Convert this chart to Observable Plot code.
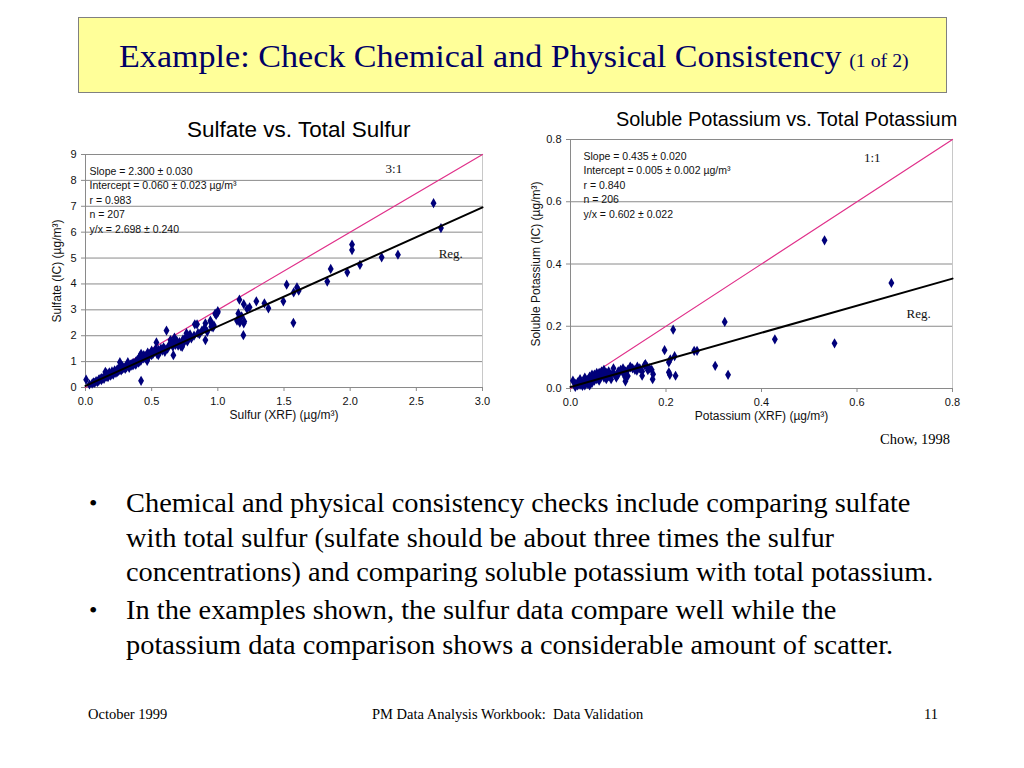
<!DOCTYPE html>
<html>
<head>
<meta charset="utf-8">
<script src="https://cdn.jsdelivr.net/npm/d3@7"></script>
<script src="https://cdn.jsdelivr.net/npm/@observablehq/plot@0.6"></script>
<style>
  html, body { margin: 0; padding: 0; background: #fff; }
  body { width: 1024px; height: 768px; position: relative; overflow: hidden; font-family: "Liberation Serif", "Times New Roman", serif; }
  .abs { position: absolute; }
  #titlebox { left: 78px; top: 17px; width: 869px; height: 76px; background: #FFFF99; border: 1.5px solid #808080; box-sizing: border-box; color: #000066; }
  #titlebox .t { position: absolute; left: 40px; top: 19px; font-size: 31px; line-height: 40px; white-space: nowrap; transform: scaleX(1.1); transform-origin: left center; }
  #titlebox small { font-size: 18px; margin-left: 7px; }
  .ctitle { font-family: "Liberation Sans", Arial, sans-serif; color: #000; white-space: nowrap; line-height: 1; }
  .bullets { left: 89px; top: 486px; width: 900px; font-size: 28px; line-height: 34.5px; color: #000; }
  .bullets .b { position: relative; margin-bottom: 3.5px; height: auto; }
  .bullets .dot { position: absolute; left: 0; top: 0; font-size: 24px; }
  .bullets .txt { display: inline-block; margin-left: 37px; white-space: nowrap; transform: scaleX(1.014); transform-origin: left top; }
  .foot { font-size: 14.5px; top: 706px; color: #000; white-space: nowrap; }
</style>
</head>
<body>
<div id="titlebox" class="abs"><div class="t">Example: Check Chemical and Physical Consistency<small>(1 of 2)</small></div></div>
<div class="abs ctitle" style="left:187px; top:119px; font-size:22.5px;">Sulfate vs. Total Sulfur</div>
<div class="abs ctitle" style="left:616px; top:110px; font-size:19.9px;">Soluble Potassium vs. Total Potassium</div>
<div id="left" class="abs" style="left:40px; top:145px;"></div>
<div id="right" class="abs" style="left:515px; top:130px;"></div>
<div class="abs" style="left:880px; top:431px; font-size:14.5px;">Chow, 1998</div>
<div class="abs bullets">
  <div class="b"><span class="dot">•</span><span class="txt">Chemical and physical consistency checks include comparing sulfate<br>with total sulfur (sulfate should be about three times the sulfur<br>concentrations) and comparing soluble potassium with total potassium.</span></div>
  <div class="b"><span class="dot">•</span><span class="txt">In the examples shown, the sulfur data compare well while the<br>potassium data comparison shows a considerable amount of scatter.</span></div>
</div>
<div class="abs foot" style="left:88px;">October 1999</div>
<div class="abs foot" style="left:372px;">PM Data Analysis Workbook:&nbsp; Data Validation</div>
<div class="abs foot" style="left:924px;">11</div>

<script>
// ---------- Sulfate vs. Total Sulfur ----------
const sulfurX = [0.005,0.42,0.466,0.536,0.536,0.612,0.642,0.664,0.667,0.672,0.73,0.737,0.763,0.773,0.826,0.843,0.861,0.906,0.906,0.944,0.949,0.964,0.987,0.999,
  1.145,1.155,1.163,1.166,1.193,1.196,1.196,1.221,1.291,1.352,1.382,1.495,1.52,1.571,1.573,1.598,1.611,1.827,1.853,1.978,2.014,2.014,2.074,2.238,2.361,2.63,2.686,
  0.03,0.05,0.06,0.07,0.08,0.09,0.1,0.1,0.11,0.12,0.12,0.13,0.14,0.14,0.15,0.15,0.16,0.16,0.17,0.17,0.18,0.18,0.19,0.2,0.2,0.21,0.21,0.22,0.22,0.23,0.23,0.24,0.24,0.25,0.25,
  0.26,0.26,0.27,0.27,0.28,0.28,0.29,0.3,0.3,0.31,0.31,0.32,0.32,0.33,0.33,0.34,0.35,0.35,0.36,0.36,0.37,0.38,0.38,0.39,0.4,0.4,0.41,0.41,0.42,0.42,0.43,0.44,0.44,0.45,
  0.46,0.47,0.47,0.48,0.49,0.5,0.5,0.51,0.52,0.53,0.54,0.55,0.55,0.56,0.57,0.58,0.59,0.6,0.6,0.62,0.63,0.65,0.66,0.68,0.69,0.7,0.71,0.72,0.74,0.75,0.76,0.77,0.78,0.79,0.8,
  0.82,0.85,0.88,0.9,0.92,0.95,0.97,0.98,1.0,1.17,1.18,1.2,1.24];
const sulfateY = [0.30,0.26,1.03,1.74,1.42,2.20,1.83,1.25,1.74,1.93,1.57,1.86,2.10,2.01,2.44,2.44,2.06,2.48,1.83,2.58,2.50,2.32,2.80,2.89,
  2.58,2.86,3.39,2.51,2.02,3.22,2.48,3.03,3.33,3.25,3.06,3.33,3.97,2.50,3.67,3.87,3.74,4.09,4.58,4.45,5.52,5.31,4.74,5.03,5.13,7.12,6.16,
  0.12,0.15,0.2,0.18,0.25,0.22,0.3,0.26,0.33,0.28,0.36,0.35,0.4,0.33,0.45,0.6,0.42,0.55,0.48,0.4,0.5,0.58,0.46,0.52,0.62,0.55,0.5,0.6,0.66,0.56,0.62,0.7,0.6,0.64,0.72,
  0.68,0.98,0.75,0.66,0.72,0.82,0.76,0.8,0.72,0.85,0.78,0.9,0.98,0.82,0.76,0.88,0.9,0.84,0.95,0.86,0.92,1.0,0.88,1.05,0.96,1.1,1.2,1.0,1.05,1.3,1.15,1.12,1.25,1.2,
  1.1,1.25,1.35,1.2,1.3,1.25,1.42,1.3,1.38,1.5,1.3,1.45,1.25,1.38,1.5,1.42,1.55,1.48,1.38,1.5,1.62,1.7,1.58,1.65,1.8,1.62,1.75,1.6,1.7,1.85,1.95,1.78,1.92,2.05,1.9,
  2.0,2.1,2.2,2.3,2.15,2.35,2.4,2.85,2.95,2.7,2.75,2.55,3.1];
const sulfurStats = ["Slope = 2.300 ± 0.030", "Intercept = 0.060 ± 0.023 µg/m³", "r = 0.983", "n = 207", "y/x = 2.698 ± 0.240"];
const sulfurSlope = 2.300, sulfurIntercept = 0.060, sulfurRefRatio = 3;
const sulfurXTicks = [0, 0.5, 1.0, 1.5, 2.0, 2.5, 3.0];
const sulfurYTicks = [0, 1, 2, 3, 4, 5, 6, 7, 8, 9];

// ---------- Soluble Potassium vs. Total Potassium ----------
const potX = [0.532,0.672,0.553,0.428,0.323,0.215,0.303,0.330,0.197,0.218,0.209,0.259,0.265,0.206,0.206,0.208,0.220,0.172,0.173,0.157,0.162,0.150,0.139,0.115,0.115,0.096,0.126,
  0.005,0.01,0.01,0.015,0.02,0.02,0.025,0.025,0.03,0.03,0.035,0.035,0.04,0.04,0.045,0.045,0.05,0.05,0.05,0.055,0.055,0.06,0.06,0.06,0.065,0.065,0.07,0.07,0.075,0.075,
  0.08,0.08,0.085,0.09,0.09,0.095,0.1,0.1,0.105,0.11,0.11,0.115,0.12,0.125,0.13,0.135,0.14,0.145,0.15,0.155,0.16,0.165,0.17,0.02,0.03,0.04,0.015,0.045,0.055,0.07,0.085,0.12];
const solKY = [0.476,0.339,0.145,0.158,0.214,0.189,0.073,0.044,0.123,0.104,0.094,0.121,0.121,0.084,0.052,0.044,0.041,0.030,0.046,0.078,0.059,0.041,0.057,0.023,0.035,0.035,0.068,
  0.025,0.015,0.005,0.01,0.012,0.025,0.018,0.008,0.02,0.035,0.015,0.028,0.022,0.038,0.03,0.018,0.032,0.025,0.045,0.03,0.04,0.035,0.05,0.025,0.04,0.055,0.035,0.045,0.05,0.03,
  0.04,0.055,0.045,0.05,0.065,0.04,0.055,0.045,0.06,0.05,0.065,0.055,0.06,0.07,0.065,0.06,0.07,0.065,0.055,0.075,0.07,0.065,0.06,0.03,0.01,0.01,0.02,0.045,0.05,0.06,0.03,0.04];
const potStats = ["Slope = 0.435 ± 0.020", "Intercept = 0.005 ± 0.002 µg/m³", "r = 0.840", "n = 206", "y/x = 0.602 ± 0.022"];
const potSlope = 0.435, potIntercept = 0.005, potRefRatio = 1;
const potXTicks = [0, 0.2, 0.4, 0.6, 0.8];
const potYTicks = [0, 0.2, 0.4, 0.6, 0.8];

function scatter(opts) {
  const pts = opts.xs.map((x, i) => ({x, y: opts.ys[i]}));
  const [x0, x1] = [opts.xTicks[0], opts.xTicks[opts.xTicks.length - 1]];
  const ref = [{x: x0, y: x0 * opts.ratio}, {x: x1, y: x1 * opts.ratio}];
  const reg = [{x: x0, y: opts.intercept + opts.slope * x0}, {x: x1, y: opts.intercept + opts.slope * x1}];
  return Plot.plot({
    width: opts.width, height: opts.height,
    marginLeft: opts.ml, marginRight: opts.mr, marginTop: opts.mt, marginBottom: opts.mb,
    style: {fontFamily: '"Liberation Sans", Arial, sans-serif', fontSize: "11px", color: "#111", background: "transparent", overflow: "visible"},
    x: {domain: [x0, x1]},
    y: {domain: [opts.yTicks[0], opts.yTicks[opts.yTicks.length - 1]]},
    marks: [
      Plot.gridY(opts.yTicks, {stroke: "#8a8a8a", strokeOpacity: 1, strokeWidth: 1}),
      Plot.ruleX([x1], {stroke: "#c8c8c8"}),
      Plot.ruleX([x0], {stroke: "#8a8a8a"}),
      Plot.ruleY([opts.yTicks[0]], {stroke: "#8a8a8a"}),
      Plot.axisY(opts.yTicks, {tickSize: 4, tickPadding: 5, stroke: "#8a8a8a", tickFormat: opts.yFmt, label: null, fontSize: 11}),
      Plot.axisX(opts.xTicks, {tickSize: 4, tickPadding: 6, stroke: "#8a8a8a", tickFormat: d3.format(".1f"), label: null, fontSize: 11}),
      Plot.line(ref, {x: "x", y: "y", stroke: "#e0308a", strokeWidth: 1.2}),
      Plot.dot(pts, {x: "x", y: "y", symbol: "diamond", r: 3.1, fill: "#00007a", stroke: "none"}),
      Plot.line(reg, {x: "x", y: "y", stroke: "#000", strokeWidth: 2}),
      Plot.text([opts.stats.join("\n")], {frameAnchor: "top-left", dx: opts.statDx, dy: 10, textAnchor: "start", lineAnchor: "top", lineHeight: 1.38, fontSize: 10.5, fill: "#111"}),
      Plot.text([opts.refLabel], {x: opts.refPos[0], y: opts.refPos[1], fontFamily: '"Liberation Serif", "Times New Roman", serif', fontSize: 13, fill: "#111"}),
      Plot.text(["Reg."], {x: opts.regPos[0], y: opts.regPos[1], fontFamily: '"Liberation Serif", "Times New Roman", serif', fontSize: 13, fill: "#111"}),
      Plot.text([opts.xLabel], {frameAnchor: "bottom", dy: 31, fontSize: 12, fill: "#111"}),
      Plot.text([opts.yLabel], {frameAnchor: "left", textAnchor: "middle", rotate: -90, dx: opts.yLabelDx, fontSize: 12, fill: "#111"})
    ]
  });
}

document.getElementById("left").append(scatter({
  xs: sulfurX, ys: sulfateY, xTicks: sulfurXTicks, yTicks: sulfurYTicks, yFmt: d3.format("d"),
  slope: sulfurSlope, intercept: sulfurIntercept, ratio: sulfurRefRatio, stats: sulfurStats, statDx: 4,
  refLabel: "3:1", refPos: [2.33, 8.46], regPos: [2.76, 5.18],
  xLabel: "Sulfur (XRF) (µg/m³)", yLabel: "Sulfate (IC) (µg/m³)", yLabelDx: -28,
  width: 460, height: 290, ml: 45, mr: 18, mt: 9, mb: 48
}));

document.getElementById("right").append(scatter({
  xs: potX, ys: solKY, xTicks: potXTicks, yTicks: potYTicks, yFmt: d3.format(".1f"),
  slope: potSlope, intercept: potIntercept, ratio: potRefRatio, stats: potStats, statDx: 13,
  refLabel: "1:1", refPos: [0.632, 0.74], regPos: [0.729, 0.241],
  xLabel: "Potassium (XRF) (µg/m³)", yLabel: "Soluble Potassium (IC) (µg/m³)", yLabelDx: -34,
  width: 455, height: 300, ml: 55, mr: 18, mt: 9, mb: 42
}));
</script>
</body>
</html>
